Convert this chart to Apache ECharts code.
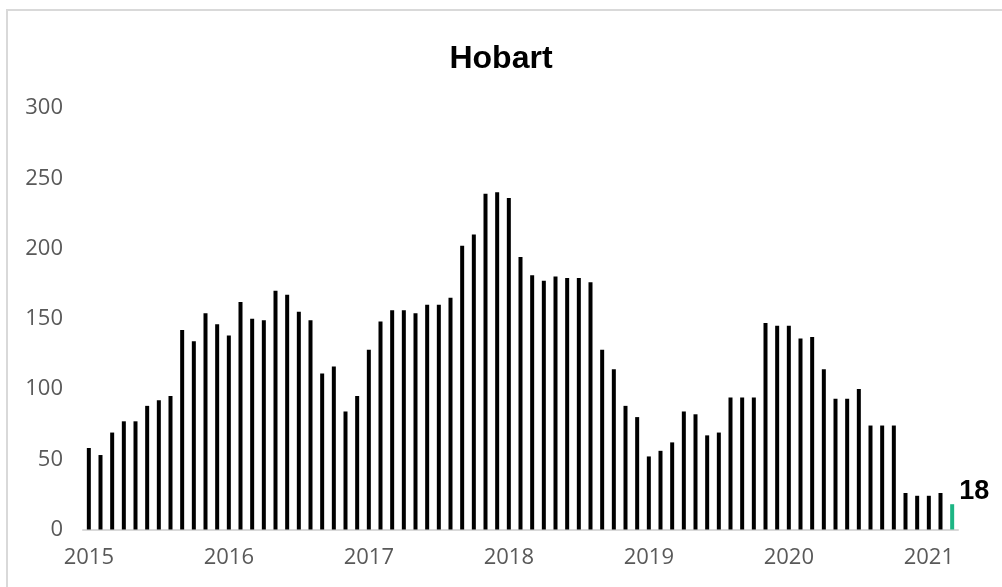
<!DOCTYPE html>
<html>
<head>
<meta charset="utf-8">
<script src="https://cdn.jsdelivr.net/npm/echarts@6/dist/echarts.min.js"></script>
<style>html,body{margin:0;padding:0;background:#fff;}#c{width:1002px;height:587px;}</style>
</head>
<body>
<div id="c"></div>
<script>
const years = ['2015','2016','2017','2018','2019','2020','2021'];
const values2015 = [58, 53, 69, 77, 77, 88, 92, 95, 142, 134, 154, 146];
const values2016 = [138, 162, 150, 149, 170, 167, 155, 149, 111, 116, 84, 95];
const values2017 = [128, 148, 156, 156, 154, 160, 160, 165, 202, 210, 239, 240];
const values2018 = [236, 194, 181, 177, 180, 179, 179, 176, 128, 114, 88, 80];
const values2019 = [52, 56, 62, 84, 82, 67, 69, 94, 94, 94, 147, 145];
const values2020 = [145, 136, 137, 114, 93, 93, 100, 74, 74, 74, 26, 24];
const values2021 = [24, 26, 18];
const yTicks = [0, 50, 100, 150, 200, 250, 300];

const allValues = [].concat(values2015, values2016, values2017, values2018, values2019, values2020, values2021);
const categories = [];
const yearBlocks = [values2015, values2016, values2017, values2018, values2019, values2020, values2021];
yearBlocks.forEach((blk, yi) => {
  blk.forEach((v, mi) => categories.push(years[yi] + '-' + String(mi + 1).padStart(2, '0')));
});

const lastIdx = allValues.length - 1;
const data = allValues.map((v, i) => {
  if (i === lastIdx) {
    return {
      value: v,
      itemStyle: { color: '#1db584' },
      label: {
        show: true, position: [9, -13], align: 'left', verticalAlign: 'middle',
        color: '#000', fontWeight: 'bold', fontSize: 27, fontFamily: 'Liberation Sans',
        formatter: '{c}'
      }
    };
  }
  return v;
});

const chart = echarts.init(document.getElementById('c'), null, { renderer: 'canvas' });
chart.setOption({
  animation: false,
  backgroundColor: '#fff',
  graphic: [{
    type: 'rect', shape: { x: 7, y: 10, width: 1010, height: 600 },
    style: { fill: 'none', stroke: '#d9d9d9', lineWidth: 2 }, silent: true, z: -1
  }],
  title: {
    text: 'Hobart', left: 'center', top: 38,
    textStyle: { fontFamily: 'Liberation Sans', fontWeight: 'bold', fontSize: 32, color: '#000' }
  },
  grid: { left: 83, right: 44, top: 108, bottom: 57.5 },
  xAxis: {
    type: 'category', data: categories,
    axisLine: { lineStyle: { color: '#d9d9d9', width: 2 } },
    axisTick: { show: false },
    axisLabel: {
      interval: 11, color: '#595959', fontSize: 22, fontFamily: 'Open Sans', margin: 17,
      formatter: v => v.slice(0, 4)
    }
  },
  yAxis: {
    type: 'value', min: yTicks[0], max: yTicks[yTicks.length - 1], interval: 50,
    splitLine: { show: false },
    axisLine: { show: false }, axisTick: { show: false },
    axisLabel: { color: '#595959', fontSize: 22, fontFamily: 'Open Sans', margin: 20, padding: [4, 0, 0, 0] }
  },
  series: [{
    type: 'bar', data: data, barWidth: 4,
    itemStyle: { color: '#000' }
  }]
});
</script>
</body>
</html>
